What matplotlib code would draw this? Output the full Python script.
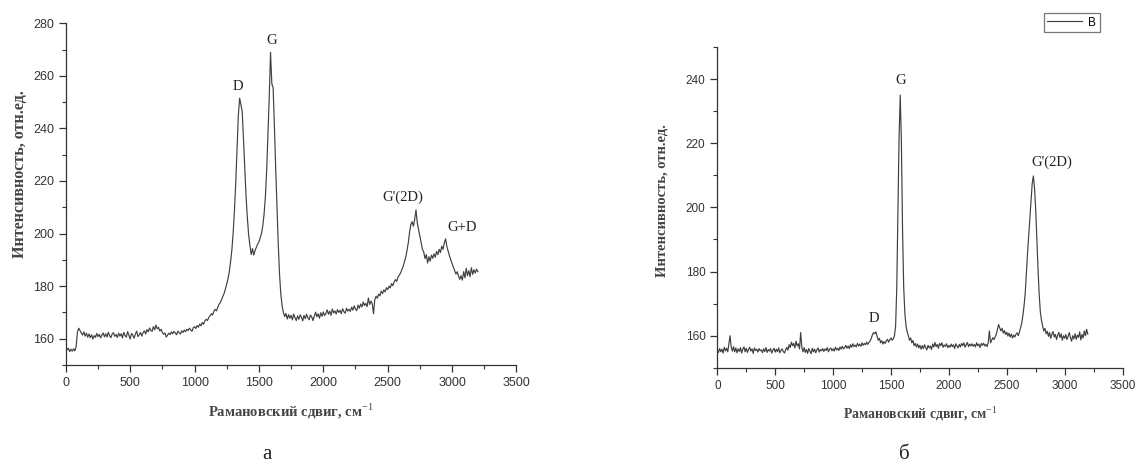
import matplotlib
matplotlib.use("Agg")
import matplotlib.pyplot as plt
import numpy as np
from matplotlib.ticker import MultipleLocator

plt.rcParams['font.family'] = ['Liberation Sans', 'DejaVu Sans']
plt.rcParams['mathtext.fontset'] = 'custom'
plt.rcParams['mathtext.rm'] = 'Liberation Serif'

# Raman shift grid (cm^-1), step 10
shift_start = 0
shift_step = 10

# panel "а": intensity
intensity_a = [
    157.2, 155.8, 156.4, 155.1, 156.0, 155.3, 156.2, 155.4, 157.0, 162.5, 164.0, 163.1, 162.2, 161.4, 162.6, 161.0, 162.1, 160.6, 161.8, 160.4,
    161.5, 159.9, 161.2, 160.5, 162.0, 160.8, 161.7, 160.3, 161.4, 162.2, 160.7, 161.9, 160.6, 162.5, 161.1, 160.4, 161.8, 162.3, 160.9, 161.6,
    160.5, 162.1, 161.0, 161.9, 160.3, 162.4, 161.2, 160.6, 162.7, 161.3, 159.9, 162.0, 161.4, 160.2, 161.7, 162.9, 160.8, 161.5, 162.4, 161.0,
    162.3, 163.0, 161.8, 163.5, 162.6, 164.1, 163.2, 162.8, 164.6, 163.4, 165.2, 163.8, 164.3, 162.9, 163.6, 162.4, 161.7, 162.2, 160.6, 161.4,
    162.1, 161.6, 162.6, 161.9, 162.8, 162.2, 161.5, 162.9, 162.3, 161.8, 163.0, 162.4, 163.3, 162.7, 163.6, 163.1, 164.0, 163.4, 162.8, 164.2,
    164.6, 163.9, 165.0, 164.4, 165.6, 164.9, 166.2, 165.5, 166.8, 167.4, 166.9, 168.0, 168.7, 169.5, 169.0, 170.4, 171.2, 170.6, 172.0, 173.1,
    173.8, 175.0, 176.1, 177.3, 179.0, 180.8, 182.9, 185.6, 189.4, 194.0, 200.5, 209.0, 219.5, 232.0, 245.0, 251.5, 249.0, 246.5, 236.0, 225.0,
    214.0, 206.0, 199.5, 195.5, 192.0, 194.3, 191.8, 193.6, 194.8, 196.0, 196.8, 198.5, 200.0, 203.0, 207.5, 214.0, 224.0, 238.0, 252.0, 269.0,
    257.0, 255.5, 241.0, 225.0, 210.5, 196.0, 184.5, 177.0, 172.5, 170.0, 168.4, 169.6, 167.5, 169.2, 167.8, 168.9, 167.2, 169.4, 168.0, 166.9,
    168.7, 167.4, 169.1, 168.2, 166.8, 168.9, 167.6, 169.3, 168.0, 167.2, 169.0, 168.3, 166.9, 168.6, 170.1, 168.4, 169.5, 167.8, 169.9, 168.5,
    170.2, 168.8, 169.6, 171.0, 169.3, 170.5, 168.9, 171.3, 169.8, 170.6, 169.4, 171.1, 170.0, 170.8, 169.5, 171.4, 170.3, 169.7, 171.6, 170.5,
    171.2, 170.4, 172.0, 170.9, 172.5, 171.3, 170.7, 172.8, 171.6, 173.2, 172.1, 174.0, 172.6, 173.5, 172.2, 175.5, 173.0, 174.3, 173.4, 169.5,
    175.0, 176.2, 175.4, 177.0, 176.3, 178.1, 177.2, 178.6, 177.8, 179.4, 178.7, 180.0, 179.3, 181.0, 180.2, 181.6, 182.5, 181.8, 183.4, 184.2,
    185.0, 186.3, 187.5, 189.2, 191.0, 193.5, 196.5, 200.5, 203.5, 204.5, 202.8, 205.5, 209.0, 204.0, 201.5, 199.0, 196.5, 194.0, 193.0, 190.5,
    192.0, 188.8, 191.2, 189.5, 191.8, 190.6, 192.3, 191.0, 193.2, 192.0, 194.0, 192.8, 195.2, 194.0, 196.5, 198.0, 195.0, 193.2, 191.5, 190.0,
    188.6, 187.2, 186.0, 184.6, 185.5, 183.8, 182.6, 184.0, 182.3, 185.5, 183.2, 186.8, 184.0, 185.9, 183.6, 187.0, 184.5, 186.2, 185.0, 186.5,
    185.5,
]

# panel "б": intensity
intensity_b = [
    155.6, 154.8, 156.0, 155.0, 155.8, 154.6, 156.4, 155.3, 156.1, 155.0, 157.5, 160.0, 156.5, 155.2, 156.6, 155.0, 156.2, 154.7, 155.9, 155.1,
    156.3, 154.6, 155.8, 156.5, 155.0, 156.1, 154.8, 155.7, 156.4, 155.2, 155.9, 154.5, 156.2, 155.4, 155.8, 154.9, 156.0, 155.3, 155.6, 154.7,
    155.9, 155.1, 156.3, 154.8, 155.7, 155.2, 156.0, 154.6, 155.5, 156.1, 154.9, 155.8, 155.0, 156.2, 154.7, 155.4, 155.9, 155.1, 154.6, 155.6,
    156.4, 155.5, 157.2, 156.3, 158.0, 156.9, 157.6, 156.2, 158.3, 156.8, 157.5, 155.9, 161.0, 156.4, 155.0, 156.3, 154.8, 155.7, 154.5, 156.0,
    155.2, 154.4, 156.1, 155.0, 155.8, 154.7, 155.6, 156.2, 154.9, 155.7, 155.3, 156.0, 155.1, 155.9, 155.4, 156.3, 155.0, 155.8, 156.2, 155.3,
    155.9, 155.2, 156.4, 155.6, 156.1, 155.4, 156.5, 155.8, 156.7, 155.9, 156.3, 157.0, 156.1, 156.8, 156.0, 157.2, 156.4, 157.5, 156.6, 157.1,
    156.5, 157.6, 156.8, 157.4, 156.7, 157.8, 157.0, 157.6, 157.2, 158.0, 157.3, 157.9, 158.4, 159.2, 160.3, 161.0, 160.6, 161.2, 159.8, 158.6,
    159.2, 157.8, 158.5, 157.4, 158.2, 157.6, 158.4, 158.9, 158.0, 158.7, 159.3, 158.6, 159.0, 160.0, 163.0, 175.0, 198.0, 222.0, 235.0, 220.0,
    193.0, 175.0, 167.0, 163.0, 161.2, 160.0, 158.6, 159.3, 157.8, 158.5, 156.9, 157.6, 156.5, 157.4, 156.2, 157.0, 155.8, 156.9, 156.0, 157.2,
    156.3, 155.6, 157.0, 156.2, 156.8, 155.7, 157.4, 156.5, 157.9, 156.6, 157.3, 156.1, 157.6, 156.9, 157.8, 156.4, 157.1, 156.7, 157.5, 156.3,
    157.0, 156.4, 157.4, 156.6, 157.2, 156.0, 157.5, 156.8, 156.2, 157.3, 156.5, 157.6, 156.9, 157.8, 156.4, 157.2, 157.9, 156.6, 157.4, 156.8,
    157.5, 156.7, 157.3, 156.5, 157.8, 156.9, 157.4, 156.3, 157.6, 157.0, 157.7, 156.8, 157.3, 156.6, 157.9, 161.5, 157.8, 158.6, 159.4, 158.8,
    159.6, 160.5, 162.0, 163.5, 162.4, 161.5, 162.3, 160.8, 161.6, 160.4, 161.1, 159.9, 160.8, 159.6, 160.5, 159.3, 160.2, 159.6, 160.5, 160.9,
    160.0, 161.2, 162.5, 164.0, 166.5, 169.5, 173.5, 180.0, 186.0, 191.5, 197.5, 203.0, 207.5, 209.8, 206.0, 199.5, 190.0, 181.0, 173.0, 167.5,
    164.8, 163.0, 161.5, 162.3, 160.6, 161.4, 159.8, 161.0, 159.2, 160.5, 161.3, 159.6, 160.4, 158.8, 160.2, 161.0, 159.4, 160.6, 158.6, 160.0,
    159.2, 160.4, 158.8, 159.8, 161.0, 159.4, 158.3, 160.0, 159.0, 160.6, 158.9, 160.2, 159.5, 161.2, 158.7, 160.4, 159.3, 161.5, 160.0, 162.0,
    160.5,
]

# peak labels: (text, shift, intensity)
labels_a = [("D", 1335, 256), ("G", 1600, 273.5), ("G'(2D)", 2620, 214), ("G+D", 3080, 202.5)]
labels_b = [("D", 1355, 165.5), ("G", 1585, 239.5), ("G'(2D)", 2890, 214)]

line_color = '#404040'
serif = ['Liberation Serif', 'DejaVu Serif']
xlabel = 'Рамановский сдвиг, см$^{\\mathrm{-1}}$'
ylabel = 'Интенсивность, отн.ед.'


def style_axis(ax, ymin, ymax, tick_size, xlab_size, ylab_size):
    ax.set_xlim(0, 3500)
    ax.set_ylim(ymin, ymax)
    ax.spines['top'].set_visible(False)
    ax.spines['right'].set_visible(False)
    for s in ('left', 'bottom'):
        ax.spines[s].set_color('#333333')
        ax.spines[s].set_linewidth(0.9)
    ax.xaxis.set_major_locator(MultipleLocator(500))
    ax.xaxis.set_minor_locator(MultipleLocator(250))
    ax.yaxis.set_major_locator(MultipleLocator(20))
    ax.yaxis.set_minor_locator(MultipleLocator(10))
    ax.tick_params(which='major', direction='out', length=5, width=0.9,
                   colors='#333333', labelsize=tick_size)
    ax.tick_params(which='minor', direction='out', length=3, width=0.8, colors='#333333')
    ax.set_xlabel(xlabel, family=serif, fontsize=xlab_size, fontweight='bold',
                  color='#444444', labelpad=9)
    ax.set_ylabel(ylabel, family=serif, fontsize=ylab_size, fontweight='bold',
                  color='#444444')


fig = plt.figure(figsize=(11.35, 4.65), dpi=100)

shift_a = shift_start + shift_step * np.arange(len(intensity_a))
shift_b = shift_start + shift_step * np.arange(len(intensity_b))

ax1 = fig.add_axes([0.058, 0.215, 0.397, 0.735])
ax1.plot(shift_a, intensity_a, color=line_color, lw=0.85)
style_axis(ax1, 150, 280, 9, 10.5, 11.5)
ax1.yaxis.set_label_coords(-0.085, 0.56)
for text, x, y in labels_a:
    ax1.text(x, y, text, ha='center', va='center', family=serif, fontsize=10.5, color='#222222')

ax2 = fig.add_axes([0.632, 0.209, 0.357, 0.690])
ax2.plot(shift_b, intensity_b, color=line_color, lw=0.85, label='B')
style_axis(ax2, 150, 250, 8.5, 9.8, 10.5)
ax2.yaxis.set_label_coords(-0.12, 0.52)
for text, x, y in labels_b:
    ax2.text(x, y, text, ha='center', va='center', family=serif, fontsize=10.5, color='#222222')

leg = fig.legend(loc='upper right', bbox_to_anchor=(0.969, 0.972), fontsize=8.5,
                 frameon=True, fancybox=False, handlelength=3.0, handletextpad=0.5,
                 borderpad=0.3, borderaxespad=0)
leg.get_frame().set_edgecolor('#555555')
leg.get_frame().set_linewidth(0.9)

fig.text(0.235, 0.022, 'а', family=serif, fontsize=15, ha='center', va='center', color='#222222')
fig.text(0.797, 0.022, 'б', family=serif, fontsize=15, ha='center', va='center', color='#222222')

fig.savefig('out.png', dpi=100)
